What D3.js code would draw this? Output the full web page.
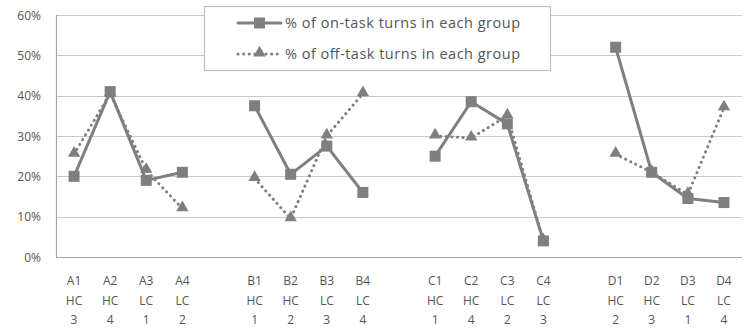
<!DOCTYPE html>
<html>
<head>
<meta charset="utf-8">
<script src="https://cdn.jsdelivr.net/npm/d3@7"></script>
<style>
  body { margin: 0; background: #fff; }
  text { font-family: "Open Sans", "DejaVu Sans", sans-serif; fill: #555; }
</style>
</head>
<body>
<script>
//Width and height
var w = 755;
var h = 332;

// data
var groups = ["A", "B", "C", "D"];
var members = ["1", "2", "3", "4"];
var ability = ["HC", "HC", "LC", "LC"];
var ranks = [
  ["3", "4", "1", "2"],
  ["1", "2", "3", "4"],
  ["1", "4", "2", "3"],
  ["2", "3", "1", "4"]
];
var onTask = [
  [20, 41, 19, 21],
  [37.5, 20.5, 27.5, 16],
  [25, 38.5, 33, 4],
  [52, 21, 14.5, 13.5]
];
var offTask = [
  [25.5, 40.5, 21.5, 12],
  [19.5, 9.5, 30, 40.5],
  [30, 29.5, 35, 4],
  [25.5, 21, 15.5, 37]
];
var yTicks = [0, 10, 20, 30, 40, 50, 60];
var seriesNames = ["% of on-task turns in each group", "% of off-task turns in each group"];

var margin = { left: 56, right: 13, top: 15, bottom: 75 };
var grey = "#7f7f7f";

// category keys, with an empty slot between groups
var domain = [];
groups.forEach(function (g, gi) {
  members.forEach(function (m) { domain.push(g + m); });
  if (gi < groups.length - 1) domain.push("gap" + gi);
});

var xScale = d3.scaleBand()
  .domain(domain)
  .range([margin.left, w - margin.right])
  .padding(0);

var yScale = d3.scaleLinear()
  .domain([0, 60])
  .range([h - margin.bottom, margin.top]);

var svg = d3.select("body").append("svg").attr("width", w).attr("height", h);

//Gridlines
svg.selectAll("line.grid")
  .data(yTicks)
  .enter()
  .append("line")
  .attr("class", "grid")
  .attr("x1", margin.left)
  .attr("x2", w - margin.right)
  .attr("y1", function (d) { return Math.round(yScale(d)) + 0.5; })
  .attr("y2", function (d) { return Math.round(yScale(d)) + 0.5; })
  .attr("stroke", function (d) { return d === 0 ? "#a6a6a6" : "#c8c8c8"; })
  .attr("stroke-width", 1.2);

// left axis line
svg.append("line")
  .attr("x1", margin.left + 0.5)
  .attr("x2", margin.left + 0.5)
  .attr("y1", yScale(60))
  .attr("y2", yScale(0))
  .attr("stroke", "#a6a6a6")
  .attr("stroke-width", 1.2);

//Y labels
svg.selectAll("text.ytick")
  .data(yTicks)
  .enter()
  .append("text")
  .attr("class", "ytick")
  .attr("x", 41)
  .attr("y", function (d) { return yScale(d) + 4.5; })
  .attr("text-anchor", "end")
  .attr("font-size", "12px")
  .text(function (d) { return d + "%"; });

//X labels, three lines each
groups.forEach(function (g, gi) {
  members.forEach(function (m, mi) {
    var cx = xScale(g + m) + xScale.bandwidth() / 2;
    var lines = [g + m, ability[mi], ranks[gi][mi]];
    lines.forEach(function (t, li) {
      svg.append("text")
        .attr("x", cx)
        .attr("y", 285 + li * 19.5)
        .attr("text-anchor", "middle")
        .attr("font-size", "12px")
        .text(t);
    });
  });
});

var line = d3.line()
  .x(function (d) { return xScale(d.key) + xScale.bandwidth() / 2; })
  .y(function (d) { return yScale(d.value); });

function pointsFor(values, gi) {
  return values.map(function (v, mi) {
    return { key: groups[gi] + members[mi], value: v };
  });
}

var tri = d3.symbol().type(d3.symbolTriangle).size(66);

//Off-task series (dotted, triangles)
offTask.forEach(function (vals, gi) {
  var pts = pointsFor(vals, gi);
  svg.append("path")
    .attr("d", line(pts))
    .attr("fill", "none")
    .attr("stroke", grey)
    .attr("stroke-width", 3)
    .attr("stroke-linecap", "round")
    .attr("stroke-dasharray", "0.1 5.5");
  svg.selectAll(null)
    .data(pts)
    .enter()
    .append("path")
    .attr("d", tri)
    .attr("transform", function (d) {
      return "translate(" + line.x()(d) + "," + (line.y()(d) - 1) + ")";
    })
    .attr("fill", grey);
});

//On-task series (solid, squares)
onTask.forEach(function (vals, gi) {
  var pts = pointsFor(vals, gi);
  svg.append("path")
    .attr("d", line(pts))
    .attr("fill", "none")
    .attr("stroke", grey)
    .attr("stroke-width", 3)
    .attr("stroke-linejoin", "round");
  svg.selectAll(null)
    .data(pts)
    .enter()
    .append("rect")
    .attr("x", function (d) { return line.x()(d) - 5.5; })
    .attr("y", function (d) { return line.y()(d) - 5.5; })
    .attr("width", 11)
    .attr("height", 11)
    .attr("fill", grey);
});

//Legend
var legend = svg.append("g");
legend.append("rect")
  .attr("x", 204.5)
  .attr("y", 6.5)
  .attr("width", 346)
  .attr("height", 64)
  .attr("fill", "#fff")
  .attr("stroke", "#bfbfbf")
  .attr("stroke-width", 1.2);

seriesNames.forEach(function (name, i) {
  var ly = 23 + i * 31;
  legend.append("line")
    .attr("x1", 238)
    .attr("x2", 281)
    .attr("y1", ly)
    .attr("y2", ly)
    .attr("stroke", grey)
    .attr("stroke-width", 3)
    .attr("stroke-linecap", "round")
    .attr("stroke-dasharray", i === 0 ? null : "0.1 5.5");
  if (i === 0) {
    legend.append("rect")
      .attr("x", 254)
      .attr("y", ly - 5.5)
      .attr("width", 11)
      .attr("height", 11)
      .attr("fill", grey);
  } else {
    legend.append("path")
      .attr("d", tri)
      .attr("transform", "translate(259.5," + (ly - 1) + ")")
      .attr("fill", grey);
  }
  legend.append("text")
    .attr("x", 285)
    .attr("y", ly + 5)
    .attr("font-size", "14.5px")
    .attr("textLength", 235)
    .attr("lengthAdjust", "spacing")
    .text(name);
});
</script>
</body>
</html>
